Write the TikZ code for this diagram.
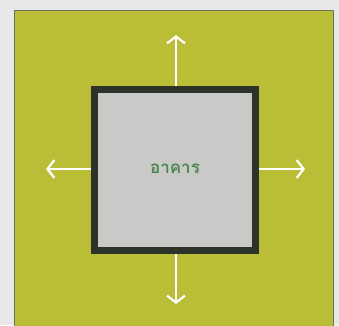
\documentclass[tikz,border=0pt]{standalone}
\usepackage{fontspec}
\newfontfamily\thaifont[Script=Thai]{Loma}
\usetikzlibrary{arrows.meta}
\definecolor{bgc}{HTML}{E6E8E9}
\definecolor{fieldc}{HTML}{B9BE36}
\definecolor{edgec}{HTML}{6E6F5A}
\definecolor{wallc}{HTML}{2E3329}
\definecolor{roomc}{HTML}{C9C9C7}
\definecolor{textc}{HTML}{4A8753}
\tikzset{
  outarrow/.style={draw=white, line width=2.4pt, -{Straight Barb[length=7pt,width=18pt,line width=2.2pt]}},
}
\begin{document}
\begin{tikzpicture}[x=1pt,y=-1pt]
\useasboundingbox[fill=bgc] (0,0) rectangle (339,325);
\begin{scope}
\clip (0,0) rectangle (339,325);
\filldraw[fill=fieldc, draw=edgec, line width=0.8pt] (14,10) rectangle (333,335);
\end{scope}
\node[draw=wallc, fill=roomc, line width=7pt, minimum width=161pt, minimum height=161pt, inner sep=0pt, outer sep=0pt] (bldg) at (175,170) {};
\node[text=textc, font=\thaifont\bfseries\fontsize{17}{20}\selectfont] (lbl) at (175,169) {อาคาร};
\coordinate (tN) at (176,35);
\coordinate (tS) at (176,304);
\coordinate (tW) at (46,169);
\coordinate (tE) at (305,169);
\draw[outarrow] (bldg.north) ++(1,-3.5) -- (tN);
\draw[outarrow] (bldg.south) ++(1,3.5) -- (tS);
\draw[outarrow] (bldg.west) ++(-3.5,-1) -- (tW);
\draw[outarrow] (bldg.east) ++(3.5,-1) -- (tE);
\end{tikzpicture}
\end{document}
